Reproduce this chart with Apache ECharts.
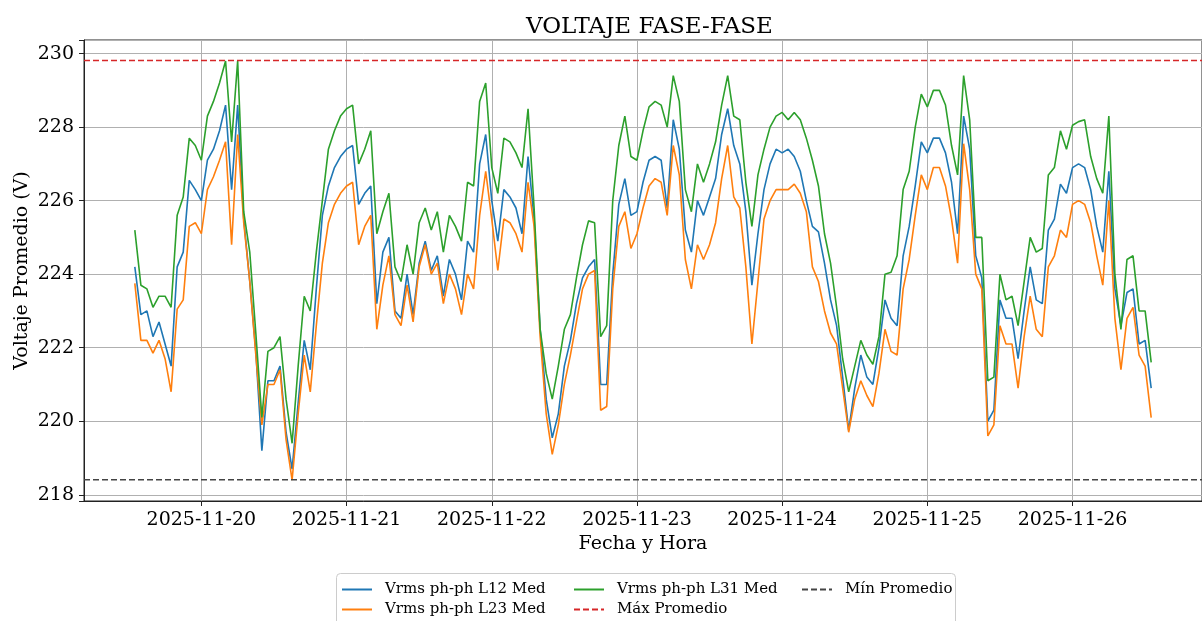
<!DOCTYPE html>
<html>
<head>
<meta charset="utf-8">
<script src="https://cdn.jsdelivr.net/npm/echarts@6/dist/echarts.min.js"></script>
<style>
  html, body { margin: 0; padding: 0; background: #fff; }
  #chart { width: 1202px; height: 621px; }
</style>
</head>
<body>
<div id="chart"></div>
<script>
// hourly samples, 2025-11-19 13:00 .. 2025-11-26 13:00
const startTime = new Date(2025, 10, 19, 13, 0, 0).getTime();
const HOUR = 3600 * 1000;

const vL12 = [
  224.2, 222.9, 223.0, 222.3, 222.7, 222.1, 221.5, 224.2, 224.6, 226.55, 226.3,
  226.0, 227.1, 227.4, 227.9, 228.6, 226.3, 228.6, 225.5, 223.8, 221.9, 219.2, 221.1, 221.1, 221.5, 219.7, 218.7, 220.5, 222.2, 221.4, 223.6, 225.6, 226.4, 226.9, 227.2,
  227.4, 227.5, 225.9, 226.2, 226.4, 223.2, 224.6, 225.0, 223.0, 222.8, 224.0, 222.9, 224.3, 224.9, 224.1, 224.5, 223.4, 224.4, 224.0, 223.3, 224.9, 224.6, 227.0, 227.8,
  226.0, 224.9, 226.3, 226.1, 225.8, 225.1, 227.2, 225.5, 222.5, 220.6, 219.55, 220.2, 221.5, 222.2, 223.2, 223.9, 224.2, 224.4, 221.0, 221.0, 224.0, 225.9, 226.6, 225.6,
  225.7, 226.5, 227.1, 227.2, 227.1, 225.8, 228.2, 227.4, 225.2, 224.6, 226.0, 225.6, 226.1, 226.6, 227.8, 228.5, 227.5, 227.0, 225.7, 223.7, 225.1, 226.3, 227.0, 227.4,
  227.3, 227.4, 227.2, 226.8, 226.0, 225.3, 225.15, 224.3, 223.3, 222.6, 221.2, 219.75, 220.9, 221.8, 221.2, 221.0, 222.0, 223.3, 222.8, 222.6, 224.5, 225.3, 226.4, 227.6,
  227.3, 227.7, 227.7, 227.3, 226.5, 225.1, 228.3, 227.4, 224.5, 223.9, 220.0, 220.3, 223.3, 222.8, 222.8, 221.7, 223.0, 224.2, 223.3, 223.2, 225.2, 225.5, 226.45, 226.2,
  226.9, 227.0, 226.9, 226.3, 225.3, 224.6, 226.8, 223.6, 222.6, 223.5, 223.6, 222.1, 222.2, 220.9
];

const vL23 = [
  223.75, 222.2, 222.2, 221.85, 222.2, 221.7, 220.8, 223.05, 223.3, 225.3, 225.4,
  225.1, 226.3, 226.65, 227.1, 227.6, 224.8, 227.8, 225.4, 223.8, 221.8, 219.9, 221.0, 221.0, 221.4, 219.5, 218.4, 220.2, 221.8, 220.8, 222.6, 224.3, 225.4, 225.9, 226.2,
  226.4, 226.5, 224.8, 225.3, 225.6, 222.5, 223.7, 224.5, 222.9, 222.6, 223.7, 222.7, 224.2, 224.8, 224.0, 224.3, 223.2, 224.0, 223.6, 222.9, 224.0, 223.6, 225.6, 226.8,
  225.5, 224.1, 225.5, 225.4, 225.1, 224.6, 226.5, 225.3, 222.3, 220.2, 219.1, 219.9, 221.0, 221.8, 222.7, 223.6, 224.0, 224.1, 220.3, 220.4, 223.6, 225.3, 225.7, 224.7,
  225.1, 225.8, 226.4, 226.6, 226.5, 225.6, 227.5, 226.7, 224.4, 223.6, 224.8, 224.4, 224.8, 225.4, 226.6, 227.5, 226.1, 225.8, 224.2, 222.1, 223.8, 225.5, 226.0, 226.3,
  226.3, 226.3, 226.45, 226.2, 225.7, 224.2, 223.8, 223.0, 222.4, 222.1, 220.9, 219.7, 220.6, 221.1, 220.7, 220.4, 221.3, 222.5, 221.9, 221.8, 223.6, 224.4, 225.6, 226.7,
  226.3, 226.9, 226.9, 226.4, 225.5, 224.3, 227.55, 226.3, 224.0, 223.6, 219.6, 219.9, 222.6, 222.1, 222.1, 220.9, 222.3, 223.4, 222.5, 222.3, 224.2, 224.5, 225.2, 225.0,
  225.9, 226.0, 225.9, 225.4, 224.5, 223.7, 226.0, 222.8, 221.4, 222.8, 223.1, 221.8, 221.5, 220.1
];

const vL31 = [
  225.2, 223.7, 223.6, 223.1, 223.4, 223.4, 223.1, 225.6, 226.1, 227.7, 227.5,
  227.1, 228.3, 228.7, 229.2, 229.8, 227.6, 229.8, 225.7, 224.6, 222.4, 220.1, 221.9, 222.0, 222.3, 220.6, 219.4, 221.5, 223.4, 223.0, 224.6, 226.0, 227.4, 227.9, 228.3,
  228.5, 228.6, 227.0, 227.4, 227.9, 225.1, 225.7, 226.2, 224.2, 223.8, 224.8, 224.0, 225.4, 225.8, 225.2, 225.7, 224.6, 225.6, 225.3, 224.9, 226.5, 226.4, 228.7, 229.2,
  226.9, 226.2, 227.7, 227.6, 227.3, 226.9, 228.5, 225.8, 222.5, 221.3, 220.6, 221.5, 222.5, 222.9, 223.9, 224.8, 225.45, 225.4, 222.3, 222.6, 226.0, 227.5, 228.3, 227.2,
  227.1, 227.9, 228.55, 228.7, 228.6, 228.0, 229.4, 228.7, 226.3, 225.7, 227.0, 226.5, 227.0, 227.6, 228.6, 229.4, 228.3, 228.2, 226.5, 225.3, 226.7, 227.4, 228.0, 228.3,
  228.4, 228.2, 228.4, 228.2, 227.7, 227.1, 226.4, 225.1, 224.3, 223.1, 221.7, 220.8, 221.5, 222.2, 221.8, 221.55, 222.3, 224.0, 224.05, 224.5, 226.3, 226.8, 228.0, 228.9,
  228.55, 229.0, 229.0, 228.6, 227.5, 226.7, 229.4, 228.2, 225.0, 225.0, 221.1, 221.2, 224.0, 223.3, 223.4, 222.6, 223.8, 225.0, 224.6, 224.7, 226.7, 226.9, 227.9, 227.4,
  228.05, 228.15, 228.2, 227.2, 226.6, 226.2, 228.3, 224.0, 222.5, 224.4, 224.5, 223.0, 223.0, 221.6
];

const maxPromedio = 229.81;
const minPromedio = 218.41;

const names = ['Vrms ph-ph L12 Med', 'Vrms ph-ph L23 Med', 'Vrms ph-ph L31 Med', 'Máx Promedio', 'Mín Promedio'];

const xMin = new Date(2025, 10, 19, 4, 36).getTime();
const xMax = new Date(2025, 10, 26, 21, 24).getTime();

const FONT = 'DejaVu Serif';

function toPairs(vals) {
  return vals.map((v, i) => [startTime + i * HOUR, v]);
}

const chart = echarts.init(document.getElementById('chart'));

const legendCommon = {
  orient: 'vertical',
  top: 582,
  padding: 0,
  itemGap: 5,
  itemWidth: 30,
  itemHeight: 14,
  itemStyle: { opacity: 0 },
  textStyle: { fontFamily: FONT, fontSize: 15, color: '#000', padding: [0, 0, 0, 8] }
};

chart.setOption({
  animation: false,
  backgroundColor: '#fff',
  title: {
    text: 'VOLTAJE FASE-FASE',
    left: 521,
    top: 11,
    textStyle: { fontFamily: FONT, fontSize: 23, fontWeight: 'normal', color: '#000' }
  },
  graphic: [{
    type: 'rect',
    left: 336,
    top: 573,
    shape: { width: 619, height: 54, r: 4 },
    style: { fill: '#fff', stroke: '#cccccc', lineWidth: 1 },
    z: 0
  }],
  legend: [
    Object.assign({ left: 341, data: [names[0], names[1]] }, legendCommon),
    Object.assign({ left: 573, data: [names[2], names[3]] }, legendCommon),
    Object.assign({ left: 801, data: [names[4]] }, legendCommon)
  ],
  grid: {
    left: 84,
    right: -8,
    top: 40,
    bottom: 120,
    show: true,
    borderColor: '#222',
    borderWidth: 1,
    backgroundColor: 'transparent'
  },
  xAxis: {
    type: 'time',
    min: xMin,
    max: xMax,
    minInterval: 24 * HOUR,
    maxInterval: 24 * HOUR,
    name: 'Fecha y Hora',
    nameLocation: 'middle',
    nameGap: 31,
    nameTextStyle: { fontFamily: FONT, fontSize: 19, color: '#000' },
    axisLine: { lineStyle: { color: '#222' } },
    axisTick: { length: 5, lineStyle: { color: '#222' } },
    axisLabel: {
      formatter: '{yyyy}-{MM}-{dd}',
      fontFamily: FONT,
      fontSize: 19,
      color: '#000',
      margin: 10,
      showMinLabel: false,
      showMaxLabel: false
    },
    splitLine: { show: true, lineStyle: { color: '#b0b0b0', width: 1 } }
  },
  yAxis: {
    type: 'value',
    min: 217.83,
    max: 230.37,
    splitNumber: 6,
    name: 'Voltaje Promedio (V)',
    nameLocation: 'middle',
    nameGap: 52,
    nameMoveOverlap: false,
    nameTextStyle: { fontFamily: FONT, fontSize: 19, color: '#000' },
    axisLine: { show: true, lineStyle: { color: '#222' } },
    axisTick: { show: true, length: 5, lineStyle: { color: '#222' } },
    axisLabel: {
      fontFamily: FONT,
      fontSize: 19,
      color: '#000',
      margin: 10,
      formatter: function (v) {
        const r = Math.round(v);
        return (Math.abs(v - r) < 1e-6 && r % 2 === 0) ? String(r) : '';
      }
    },
    splitLine: { show: true, lineStyle: { color: '#b0b0b0', width: 1 } }
  },
  series: [
    {
      name: names[0], type: 'line', data: toPairs(vL12), showSymbol: false, symbol: 'none',
      color: '#1f77b4', lineStyle: { width: 1.6, color: '#1f77b4' }
    },
    {
      name: names[1], type: 'line', data: toPairs(vL23), showSymbol: false, symbol: 'none',
      color: '#ff7f0e', lineStyle: { width: 1.6, color: '#ff7f0e' }
    },
    {
      name: names[2], type: 'line', data: toPairs(vL31), showSymbol: false, symbol: 'none',
      color: '#2ca02c', lineStyle: { width: 1.6, color: '#2ca02c' }
    },
    {
      name: names[3], type: 'line', data: [[xMin, maxPromedio], [xMax, maxPromedio]], symbol: 'none',
      color: '#d62728', lineStyle: { width: 1.5, color: '#d62728', type: [6, 3] }
    },
    {
      name: names[4], type: 'line', data: [[xMin, minPromedio], [xMax, minPromedio]], symbol: 'none',
      color: '#444', lineStyle: { width: 1.5, color: '#444', type: [6, 3] }
    }
  ]
});
</script>
</body>
</html>
